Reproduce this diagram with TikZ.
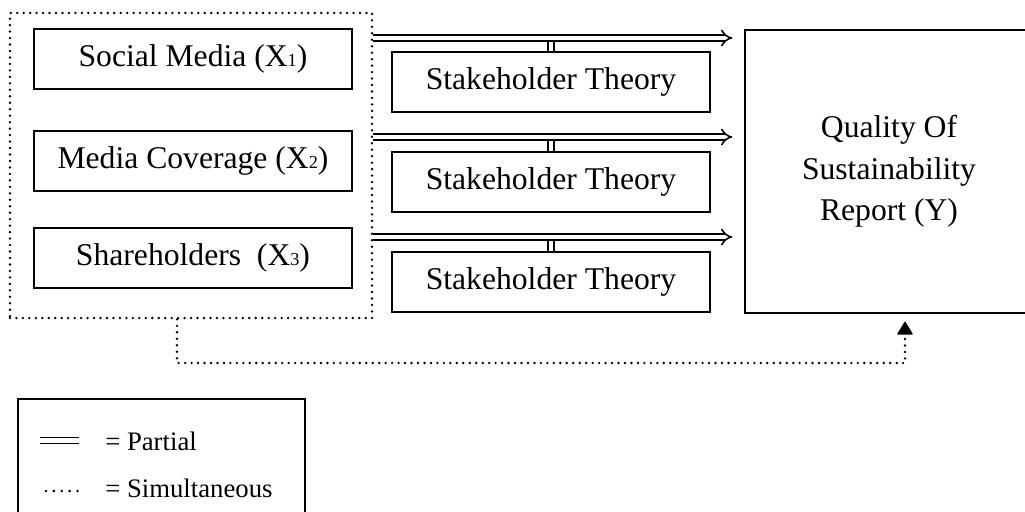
\documentclass[tikz,border=0pt]{standalone}
\usepackage{fontspec}
\setmainfont{Liberation Serif}
\usetikzlibrary{arrows.meta, positioning}

\newcommand{\subx}[1]{{\fontsize{13}{13}\selectfont #1}}

\begin{document}
\begin{tikzpicture}[x=0.025cm, y=-0.025cm, node distance=2.5cm, on grid,
    var/.style={rectangle, draw, line width=0.9pt, minimum width=7.95cm, minimum height=1.5cm, font=\fontsize{22.5}{27}\selectfont},
    partial/.style={double, line width=1.1pt, double distance=3pt},
    simul/.style={line width=1.9pt, line cap=round, dash pattern=on 0pt off 4.6pt},
    legend/.style={anchor=base west, inner sep=0pt, font=\fontsize{19}{23}\selectfont}]

        \useasboundingbox (0,0) rectangle (1025,512);

        \node[var] (sm) at (193,59) {Social Media (X\subx{1})};
        \node[var, below=2.55cm of sm] (mc) {Media Coverage (X\subx{2})};
        \node[var, below=2.425cm of mc] (sh) {Shareholders\ \ (X\subx{3})};

        \node[simul, draw, minimum width=9.05cm, minimum height=7.625cm] (grp) at (191,165.5) {};

        \node[var] (st1) at (551,82) {Stakeholder Theory};
        \node[var, below=of st1] (st2) {Stakeholder Theory};
        \node[var, below=of st2] (st3) {Stakeholder Theory};

        \node[var, minimum width=7.2cm, minimum height=7.075cm, align=center, font=\fontsize{22.5}{29.5}\selectfont] (q) at (889,171.5) {Quality Of\\Sustainability\\Report (Y)};

        % partial paths
        \foreach \n/\h in {1/38, 2/137, 3/237} {
            \draw[partial] (st\n.north) -- (st\n.north |- 0,\h);
            \draw[partial, -{Implies}, shorten >=0.3cm] (grp.east |- 0,\h) -- (q.west |- 0,\h);
        }

        % simultaneous path
        \coordinate (d1) at (177,363);
        \coordinate (d2) at (905,363);
        \draw[simul, -{Triangle[round, length=9.5pt, width=11.5pt, line width=0.8pt]}, shorten >=0.2cm] (grp.south -| d1) -- (d1) -- (d2) -- (q.south -| d2);

        % legend
        \draw[line width=0.9pt] (18,530) |- (305,399) -- (305,530);
        \coordinate (p1) at (40,440.5);
        \coordinate (p2) at (79,440.5);
        \draw[partial] (p1) -- (p2);
        \node[legend] (pl) at (105,450) {= Partial};
        \coordinate (s1) at (46,491);
        \coordinate (s2) at (80,491);
        \draw[line width=2pt, line cap=round, dash pattern=on 0pt off 5.6pt] (s1) -- (s2);
        \node[legend] (sl) at (105,497) {= Simultaneous};

    \end{tikzpicture}
\end{document}
